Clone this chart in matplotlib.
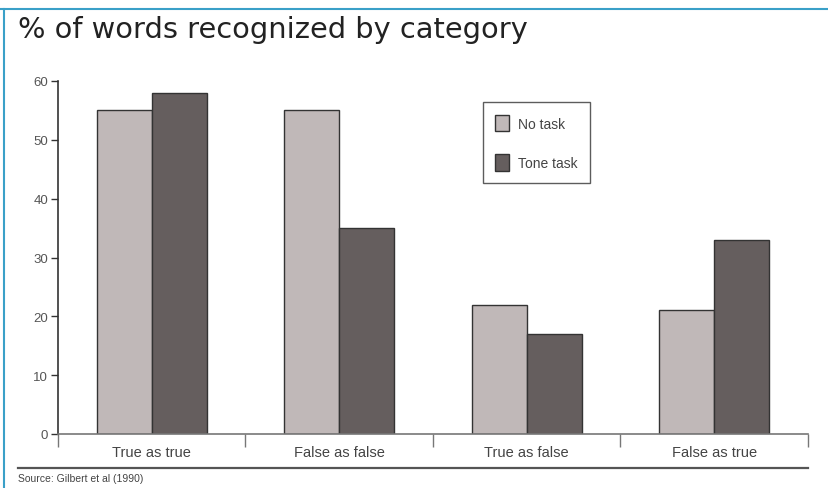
# Bar chart: share of words recognized, by category and task condition
import matplotlib.pyplot as plt
import numpy as np
from matplotlib.lines import Line2D

categories = ['True as true', 'False as false', 'True as false', 'False as true']
no_task = [55, 55, 22, 21]
tone_task = [58, 35, 17, 33]
series_names = ['No task', 'Tone task']
yticks = [0, 10, 20, 30, 40, 50, 60]

light = '#c0b8b8'
dark = '#655e5e'
edge = '#333333'
txt = '#555555'
frame_blue = '#3aa0c8'

W, H = 829, 489
fig = plt.figure(figsize=(W / 100, H / 100), dpi=100)
ax = fig.add_axes([58 / W, 1 - 435 / H, (808 - 58) / W, (435 - 82) / H])

x = np.arange(len(categories)) + 0.5
bw = 0.293
ax.bar(x - bw / 2, no_task, bw, color=light, edgecolor=edge, linewidth=1.0, label=series_names[0])
ax.bar(x + bw / 2, tone_task, bw, color=dark, edgecolor=edge, linewidth=1.0, label=series_names[1])

ax.set_xlim(0, len(categories))
ax.set_ylim(0, 60)
for s in ['top', 'right']:
    ax.spines[s].set_visible(False)
ax.spines['left'].set_color(edge)
ax.spines['bottom'].set_color('#777777')
ax.spines['left'].set_linewidth(1.2)
ax.spines['bottom'].set_linewidth(1.2)

ax.set_yticks(yticks)
ax.set_yticklabels([str(v) for v in yticks], fontsize=9.5, color=txt, family='Liberation Sans')
ax.tick_params(axis='y', direction='out', length=5, width=1, color=edge, pad=2)

# category labels at group centres, dividers as minor ticks at the boundaries
ax.set_xticks(x)
ax.set_xticklabels(categories, fontsize=10.5, color='#444444', family='Liberation Sans')
ax.tick_params(axis='x', which='major', length=0, pad=8)
ax.set_xticks(np.arange(len(categories) + 1), minor=True)
ax.tick_params(axis='x', which='minor', direction='out', length=9, width=1, color='#777777')

leg = ax.legend(loc='upper left', bbox_to_anchor=(483 / W, 1 - 103 / H),
                bbox_transform=fig.transFigure, frameon=True, fancybox=False,
                edgecolor=edge, handlelength=1.0, handleheight=1.5, labelspacing=1.6,
                borderpad=0.9, handletextpad=0.6, borderaxespad=0,
                prop={'family': 'Liberation Sans', 'size': 10})
leg.get_frame().set_linewidth(1.0)
for t in leg.get_texts():
    t.set_color('#444444')

fig.text(18 / W, 1 - 30 / H, '% of words recognized by category', fontsize=20.8,
         family='DejaVu Sans', color='#222222', va='center', ha='left')

fig.add_artist(Line2D([18 / W, 808 / W], [1 - 469 / H, 1 - 469 / H], color='#555555', lw=1.6))
fig.text(18 / W, 1 - 479 / H, 'Source: Gilbert et al (1990)', fontsize=7.5,
         family='Liberation Sans', color='#444444', va='center', ha='left')

# blue frame along top and left edge
fig.add_artist(Line2D([0, 1], [1 - 10 / H, 1 - 10 / H], color=frame_blue, lw=1.5))
fig.add_artist(Line2D([4 / W, 4 / W], [0, 1 - 10 / H], color=frame_blue, lw=1.5))

fig.savefig('out.png', dpi=100)
